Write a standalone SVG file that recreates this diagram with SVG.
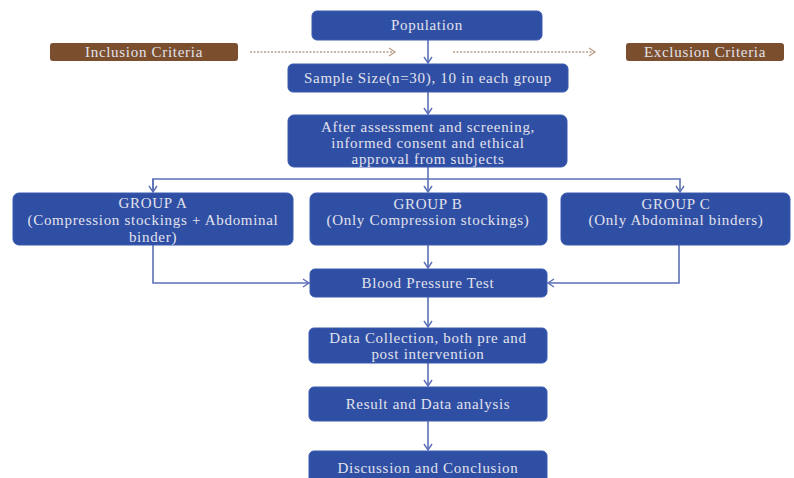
<svg xmlns="http://www.w3.org/2000/svg" width="794" height="478" viewBox="0 0 794 478">
<style>
.box{fill:#2f4fa4;stroke:#3a5ab0;stroke-width:1}
.crit{fill:#7b4f2e}
.t{font-family:"Liberation Serif","Times New Roman",serif;font-size:15px;letter-spacing:0.7px;fill:#e2e2ec;text-anchor:middle}
.ln{fill:none;stroke:#5b6fb6;stroke-width:1.6}
.dot{fill:none;stroke:#b9a08c;stroke-width:1.3;stroke-dasharray:2 1.5}
</style>
<defs>
<marker id="ah" markerWidth="10" markerHeight="10" refX="8" refY="5" orient="auto" markerUnits="userSpaceOnUse">
<polyline points="2,1 8,5 2,9" fill="none" stroke="#5b6fb6" stroke-width="1.4"/>
</marker>
<marker id="ahd" markerWidth="10" markerHeight="10" refX="8" refY="5" orient="auto" markerUnits="userSpaceOnUse">
<polyline points="2,1 8,5 2,9" fill="none" stroke="#b9a08c" stroke-width="1.3"/>
</marker>
</defs>
<rect width="794" height="478" fill="#ffffff"/>
<g id="connectors">
<line class="ln" x1="428" y1="40" x2="428" y2="63" marker-end="url(#ah)"/>
<line class="ln" x1="428" y1="92" x2="428" y2="114" marker-end="url(#ah)"/>
<line class="ln" x1="428" y1="167" x2="428" y2="192" marker-end="url(#ah)"/>
<polyline class="ln" points="153,192 153,179 680,179 680,192" marker-end="url(#ah)"/>
<line class="ln" x1="153" y1="179" x2="153" y2="192" marker-end="url(#ah)"/>
<line class="ln" x1="428" y1="245" x2="428" y2="268" marker-end="url(#ah)"/>
<polyline class="ln" points="153,245 153,283 309,283" marker-end="url(#ah)"/>
<polyline class="ln" points="679,245 679,283 548,283" marker-end="url(#ah)"/>
<line class="ln" x1="428" y1="297" x2="428" y2="327" marker-end="url(#ah)"/>
<line class="ln" x1="428" y1="363" x2="428" y2="386" marker-end="url(#ah)"/>
<line class="ln" x1="428" y1="421" x2="428" y2="450" marker-end="url(#ah)"/>
<line class="dot" x1="250" y1="52" x2="395" y2="52" marker-end="url(#ahd)"/>
<line class="dot" x1="453" y1="52" x2="595" y2="52" marker-end="url(#ahd)"/>
</g>
<g id="population"><rect class="box" x="312" y="11" width="230" height="29" rx="5"/><text class="t" x="427" y="30">Population</text></g>
<g id="inclusion"><rect class="crit" x="50" y="43" width="188" height="18" rx="3"/><text class="t" x="144" y="57">Inclusion Criteria</text></g>
<g id="exclusion"><rect class="crit" x="626" y="43" width="158" height="18" rx="3"/><text class="t" x="705" y="57">Exclusion Criteria</text></g>
<g id="sample"><rect class="box" x="288" y="64" width="280" height="28" rx="5"/><text class="t" x="428" y="83">Sample Size(n=30), 10 in each group</text></g>
<g id="assessment"><rect class="box" x="288" y="115" width="279" height="52" rx="6"/><text class="t" x="428" y="132">After assessment and screening,</text><text class="t" x="428" y="148">informed consent and ethical</text><text class="t" x="428" y="164">approval  from subjects</text></g>
<g id="groupA"><rect class="box" x="13" y="193" width="280" height="52" rx="6"/><text class="t" x="153" y="208">GROUP A</text><text class="t" x="153" y="225">(Compression stockings + Abdominal</text><text class="t" x="153" y="242">binder)</text></g>
<g id="groupB"><rect class="box" x="310" y="193" width="237" height="52" rx="6"/><text class="t" x="428" y="209">GROUP B</text><text class="t" x="428" y="225">(Only Compression stockings)</text></g>
<g id="groupC"><rect class="box" x="561" y="193" width="229" height="52" rx="6"/><text class="t" x="676" y="209">GROUP C</text><text class="t" x="676" y="225">(Only Abdominal binders)</text></g>
<g id="bp"><rect class="box" x="310" y="269" width="237" height="28" rx="5"/><text class="t" x="428" y="288">Blood Pressure Test</text></g>
<g id="datacollection"><rect class="box" x="309" y="328" width="238" height="35" rx="5"/><text class="t" x="428" y="343">Data Collection, both pre and</text><text class="t" x="428" y="359">post intervention</text></g>
<g id="result"><rect class="box" x="309" y="387" width="238" height="34" rx="5"/><text class="t" x="428" y="409">Result and Data analysis</text></g>
<g id="discussion"><rect class="box" x="309" y="451" width="238" height="40" rx="5"/><text class="t" x="428" y="473">Discussion and Conclusion</text></g>
</svg>
